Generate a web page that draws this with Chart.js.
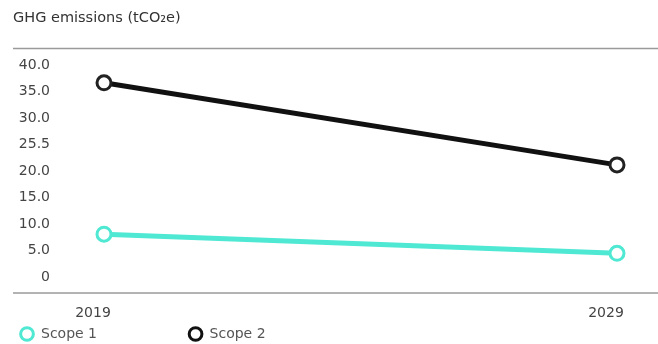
<!DOCTYPE html>
<html><head><meta charset="utf-8">
<script src="https://cdn.jsdelivr.net/npm/chart.js@4"></script>
<style>html,body{margin:0;padding:0;background:#fff;overflow:hidden}#wrap{width:658px;height:344px;position:absolute;left:0;top:0}</style>
</head><body><div id="wrap"><canvas id="c"></canvas></div>
<script>
const categories = ['2019', '2029'];
const scope1 = [8.1, 4.5];
const scope2 = [36.7, 21.2];
const seriesNames = ['Scope 1', 'Scope 2'];
const yTickValues = [0, 5, 10, 15, 20, 25, 30, 35, 40];
const yTickLabels = ['0', '5.0', '10.0', '15.0', '20.0', '25.5', '30.0', '35.0', '40.0'];
const titleText = 'GHG emissions (tCO\u2082e)';

const FONT = "'DejaVu Sans', sans-serif";
const borderLines = {
  id: 'borderLines',
  afterDraw(chart) {
    const {ctx, chartArea} = chart;
    const x0 = chart.scales.y.left, x1 = chart.width;
    ctx.save();
    ctx.strokeStyle = '#9a9a9a';
    ctx.lineWidth = 1.5;
    ctx.beginPath();
    ctx.moveTo(x0, chartArea.top); ctx.lineTo(x1, chartArea.top);
    ctx.moveTo(x0, chartArea.bottom); ctx.lineTo(x1, chartArea.bottom);
    ctx.stroke();
    ctx.restore();
  }
};

new Chart(document.getElementById('c'), {
  type: 'line',
  data: {
    labels: categories,
    datasets: [
      {label: seriesNames[0], data: scope1, borderColor: '#4fe8d3', backgroundColor: '#fff', borderWidth: 5,
       pointRadius: 7, pointBorderWidth: 3, pointBackgroundColor: '#fff', pointBorderColor: '#4fe8d3'},
      {label: seriesNames[1], data: scope2, borderColor: '#111', backgroundColor: '#fff', borderWidth: 5,
       pointRadius: 7, pointBorderWidth: 3, pointBackgroundColor: '#fff', pointBorderColor: '#222'}
    ]
  },
  plugins: [borderLines],
  options: {
    responsive: true, maintainAspectRatio: false, animation: false,
    layout: {padding: {left: 13, right: 41, top: 0, bottom: -7}},
    plugins: {
      title: {display: true, text: titleText, align: 'start', color: '#333',
        font: {family: FONT, size: 14.5, weight: 'normal'}, padding: {top: 10, bottom: 21}},
      legend: {position: 'bottom', align: 'start',
        labels: {usePointStyle: true, pointStyle: 'circle', boxWidth: 14, boxHeight: 9, padding: 7,
          color: '#555', font: {family: FONT, size: 14},
          generateLabels(chart) {
            return chart.data.datasets.map((ds, i) => ({
              text: i === 0 ? ds.label + '\u00a0'.repeat(19) : ds.label,
              fillStyle: '#fff', strokeStyle: ds.borderColor, lineWidth: 3,
              pointStyle: 'circle', datasetIndex: i, fontColor: '#555'
            }));
          }}},
      tooltip: {enabled: false}
    },
    scales: {
      x: {offset: false, grid: {display: false, drawTicks: false}, border: {display: false},
        afterFit(axis) { axis.height = 27; },
        ticks: {color: '#444', font: {family: FONT, size: 14, lineHeight: 1}, padding: 13, labelOffset: -11}},
      y: {min: -3, max: 43.2, grid: {display: false, drawTicks: false}, border: {display: false},
        afterBuildTicks(axis) { axis.ticks = yTickValues.map(v => ({value: v})); },
        afterFit(axis) { axis.width = 91; axis.paddingTop = 0; axis.paddingBottom = 0; },
        ticks: {color: '#444', font: {family: FONT, size: 14}, padding: 54,
          callback(v) { const i = yTickValues.indexOf(v); return i >= 0 ? yTickLabels[i] : ''; }}}
    }
  }
});
</script></body></html>
